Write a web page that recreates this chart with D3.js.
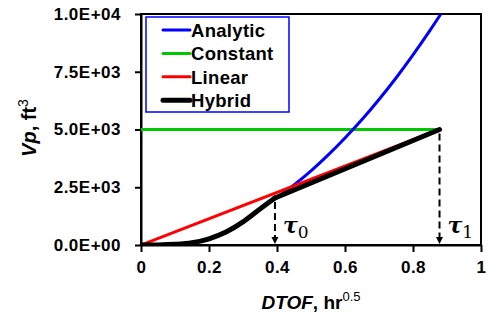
<!DOCTYPE html>
<html>
<head>
<meta charset="utf-8">
<script src="https://cdn.jsdelivr.net/npm/d3@7"></script>
<style>
  html, body { margin: 0; padding: 0; background: #fff; }
  svg { display: block; }
  text { font-family: "Liberation Sans", Arial, sans-serif; font-weight: bold; }
</style>
</head>
<body>
<svg id="chart" width="490" height="320"></svg>
<script>
// Pore volume vs. square root of time-of-flight for four models
const xTicks = [0, 0.2, 0.4, 0.6, 0.8, 1];
const xTickLabels = ["0", "0.2", "0.4", "0.6", "0.8", "1"];
const yTicks = [0, 2500, 5000, 7500, 10000];
const yTickLabels = ["0.0E+00", "2.5E+03", "5.0E+03", "7.5E+03", "1.0E+04"];

const tau0 = 0.394;
const tau1 = 0.878;

// Analytic model (beyond tau0)
const analyticT = [0.394, 0.45, 0.5, 0.55, 0.6, 0.65, 0.7, 0.75, 0.8, 0.85, 0.882];
const analyticV = [1995, 2600, 3210, 3890, 4630, 5430, 6300, 7230, 8230, 9290, 10000];

// Constant model
const constantT = [0, 0.878];
const constantV = [5000, 5000];

// Linear model
const linearT = [0, 0.878];
const linearV = [0, 5000];

// Hybrid model: curved rise up to tau0, then straight to tau1
const hybridCurveT = [0, 0.05, 0.1, 0.15, 0.2, 0.25, 0.3, 0.35, 0.394];
const hybridCurveV = [0, 5, 30, 100, 270, 560, 1000, 1560, 2035];
const hybridLineT = [0.394, 0.878];
const hybridLineV = [2035, 5000];

const seriesNames = ["Analytic", "Constant", "Linear", "Hybrid"];
const seriesColors = ["#0000ff", "#00c800", "#ff0000", "#000000"];

const svg = d3.select("#chart");
const x = d3.scaleLinear().domain([0, 1]).range([141, 481]);
const y = d3.scaleLinear().domain([0, 10000]).range([245, 14]);

const zip = (ts, vs) => ts.map((t, i) => [t, vs[i]]);
const line = d3.line().x(d => x(d[0])).y(d => y(d[1]));
const smooth = d3.line().x(d => x(d[0])).y(d => y(d[1])).curve(d3.curveMonotoneX);

// Plot frame
svg.append("rect")
  .attr("x", x(0)).attr("y", y(10000))
  .attr("width", x(1) - x(0)).attr("height", y(0) - y(10000))
  .attr("fill", "none").attr("stroke", "#000").attr("stroke-width", 2);

// Axes
const yAxis = svg.append("g").attr("transform", `translate(${x(0)},0)`)
  .call(d3.axisLeft(y).tickValues(yTicks).tickSize(6).tickSizeOuter(0).tickPadding(14)
    .tickFormat((d, i) => yTickLabels[i]));
const xAxis = svg.append("g").attr("transform", `translate(0,${y(0)})`)
  .call(d3.axisBottom(x).tickValues(xTicks).tickSize(7).tickSizeOuter(0).tickPadding(9)
    .tickFormat((d, i) => xTickLabels[i]));
[yAxis, xAxis].forEach(g => {
  g.select(".domain").attr("stroke", "#000").attr("stroke-width", 2);
  g.selectAll(".tick line").attr("stroke", "#000").attr("stroke-width", 2);
  g.selectAll(".tick text").attr("fill", "#000")
    .style("font-size", "17px").style("font-family", "'Liberation Sans', Arial, sans-serif")
    .style("font-weight", "bold").style("letter-spacing", "0.5px");
});

// Series
svg.append("clipPath").attr("id", "plotclip").append("rect")
  .attr("x", x(0)).attr("y", y(10000)).attr("width", x(1) - x(0)).attr("height", y(0) - y(10000));

const plot = svg.append("g").attr("clip-path", "url(#plotclip)");
plot.append("path").datum(zip(constantT, constantV)).attr("d", line)
  .attr("fill", "none").attr("stroke", seriesColors[1]).attr("stroke-width", 3);
plot.append("path").datum(zip(analyticT, analyticV)).attr("d", smooth)
  .attr("fill", "none").attr("stroke", seriesColors[0]).attr("stroke-width", 3);
plot.append("path").datum(zip(linearT, linearV)).attr("d", line)
  .attr("fill", "none").attr("stroke", seriesColors[2]).attr("stroke-width", 3);
[[hybridCurveT, hybridCurveV, smooth], [hybridLineT, hybridLineV, line]].forEach(([ts, vs, gen]) => {
  plot.append("path").datum(zip(ts, vs)).attr("d", gen)
    .attr("fill", "none").attr("stroke", seriesColors[3]).attr("stroke-width", 5)
    .attr("stroke-linecap", "round").attr("stroke-linejoin", "round");
});

// Dashed markers for tau0 and tau1
const tauPoints = [[tau0, hybridLineV[0]], [tau1, hybridLineV[1]]];
tauPoints.forEach(([t, v]) => {
  svg.append("line")
    .attr("x1", x(t)).attr("x2", x(t)).attr("y1", y(v) + 4).attr("y2", y(0) - 6)
    .attr("stroke", "#000").attr("stroke-width", 2).attr("stroke-dasharray", "7,4");
  svg.append("path")
    .attr("d", `M${x(t) - 3.5},${y(0) - 8} L${x(t) + 3.5},${y(0) - 8} L${x(t)},${y(0) - 1} Z`)
    .attr("fill", "#000");
});

// tau labels
const tauLabel = (t, sub) => {
  const tx = svg.append("text").attr("x", x(t) + 8).attr("y", 233)
    .style("font-family", "'DejaVu Serif', serif").style("font-style", "italic")
    .style("font-weight", "bold").style("font-size", "22px").attr("fill", "#000");
  tx.append("tspan").text("τ");
  tx.append("tspan").attr("dy", 5).style("font-size", "17px").style("font-style", "normal")
    .style("font-weight", "normal").text(sub);
};
tauLabel(tau0, "0");
tauLabel(tau1, "1");

// Legend
const legend = svg.append("g");
legend.append("rect").attr("x", 146).attr("y", 17).attr("width", 143).attr("height", 95)
  .attr("fill", "#fff").attr("stroke", "#0000ff").attr("stroke-width", 1.5);
seriesNames.forEach((name, i) => {
  const ly = 30 + i * 23.4;
  legend.append("line").attr("x1", 163).attr("x2", 190).attr("y1", ly).attr("y2", ly)
    .attr("stroke", seriesColors[i]).attr("stroke-width", i === 3 ? 5 : 3)
    .attr("stroke-linecap", "round");
  legend.append("text").attr("x", 191).attr("y", ly + 7).text(name)
    .style("font-size", "18.5px").style("letter-spacing", "0.3px").attr("fill", "#000");
});

// Axis titles
const xt = svg.append("text").attr("x", 311).attr("y", 309).attr("text-anchor", "middle")
  .style("font-size", "19px").attr("fill", "#000");
xt.append("tspan").style("font-style", "italic").text("DTOF");
xt.append("tspan").text(", hr");
xt.append("tspan").attr("dy", -8).style("font-size", "13px").style("font-weight", "normal").text("0.5");

const yt = svg.append("text").attr("transform", "translate(36,128) rotate(-90)")
  .attr("text-anchor", "middle").style("font-size", "20px").attr("fill", "#000");
yt.append("tspan").style("font-style", "italic").text("Vp");
yt.append("tspan").text(", ft");
yt.append("tspan").attr("dy", -8).style("font-size", "14px").style("font-weight", "normal").text("3");
</script>
</body>
</html>
